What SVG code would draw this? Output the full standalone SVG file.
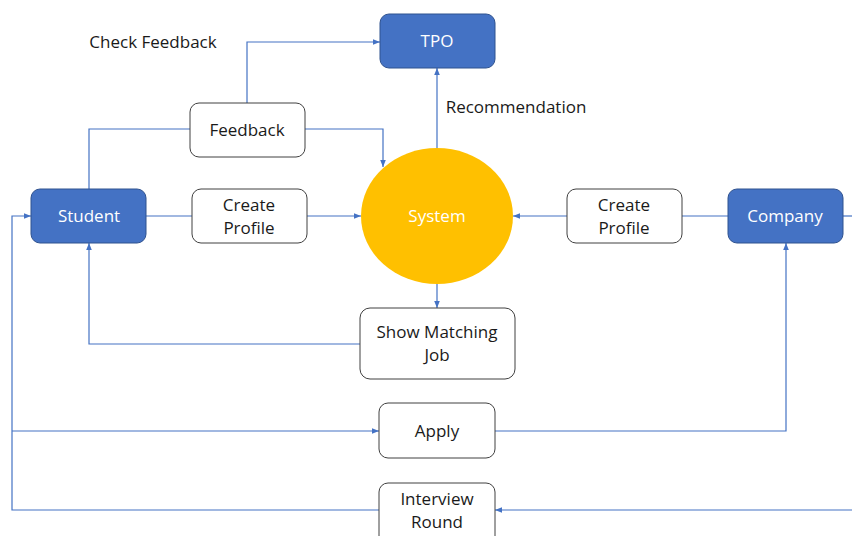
<svg xmlns="http://www.w3.org/2000/svg" width="852" height="536" viewBox="0 0 852 536">
<style>
.blue{fill:#4472C4;stroke:#2F528F;stroke-width:1}
.white{fill:#fff;stroke:#404040;stroke-width:1}
.t{font-family:"Open Sans","Noto Sans",sans-serif;font-size:17px;text-anchor:middle;fill:#1a1a1a}
.tw{font-family:"Open Sans","Noto Sans",sans-serif;font-size:17px;text-anchor:middle;fill:#fff}
.c{fill:none;stroke:#4472C4;stroke-width:1.2}
</style>
<defs>
<marker id="a" viewBox="0 0 10 10" refX="10" refY="5" markerWidth="7" markerHeight="7" orient="auto" markerUnits="userSpaceOnUse">
<path d="M0,1 L10,5 L0,9 z" fill="#4472C4"/>
</marker>
</defs>
<rect width="852" height="536" fill="#fff"/>
<g id="connectors">
<path class="c" d="M247,103 V42 H380" marker-end="url(#a)"/>
<path class="c" d="M89,189 V129 H190"/>
<path class="c" d="M305,129 H383 V167" marker-end="url(#a)"/>
<path class="c" d="M146,216 H192"/>
<path class="c" d="M307,216 H361" marker-end="url(#a)"/>
<path class="c" d="M728,216 H682"/>
<path class="c" d="M567,216 H513" marker-end="url(#a)"/>
<path class="c" d="M843,216 H852"/>
<path class="c" d="M437,149 V68" marker-end="url(#a)"/>
<path class="c" d="M437,284 V308" marker-end="url(#a)"/>
<path class="c" d="M360,344 H89 V243" marker-end="url(#a)"/>
<path class="c" d="M379,510 H12 V216 H31" marker-end="url(#a)"/>
<path class="c" d="M12,431 H379" marker-end="url(#a)"/>
<path class="c" d="M495,431 H786 V243" marker-end="url(#a)"/>
<path class="c" d="M852,510 H495" marker-end="url(#a)"/>
</g>
<text class="t" x="153" y="48">Check Feedback</text>
<text class="t" x="516" y="113">Recommendation</text>
<g id="tpo"><rect class="blue" x="380" y="14" width="115" height="54" rx="9"/><text class="tw" x="437" y="47">TPO</text></g>
<g id="feedback"><rect class="white" x="190" y="103" width="115" height="54" rx="9"/><text class="t" x="247" y="136">Feedback</text></g>
<g id="student"><rect class="blue" x="31" y="189" width="115" height="54" rx="9"/><text class="tw" x="89" y="222">Student</text></g>
<g id="create-profile-1"><rect class="white" x="192" y="189" width="115" height="54" rx="9"/><text class="t" x="249" y="211">Create</text><text class="t" x="249" y="234">Profile</text></g>
<g id="system"><ellipse cx="437" cy="216" rx="76" ry="68" fill="#FFC000"/><text class="tw" x="437" y="222">System</text></g>
<g id="create-profile-2"><rect class="white" x="567" y="189" width="115" height="54" rx="9"/><text class="t" x="624" y="211">Create</text><text class="t" x="624" y="234">Profile</text></g>
<g id="company"><rect class="blue" x="728" y="189" width="115" height="54" rx="9"/><text class="tw" x="785" y="222">Company</text></g>
<g id="show-matching-job"><rect class="white" x="360" y="308" width="155" height="71" rx="10"/><text class="t" x="437" y="338">Show Matching</text><text class="t" x="437" y="361">Job</text></g>
<g id="apply"><rect class="white" x="379" y="403" width="116" height="55" rx="9"/><text class="t" x="437" y="437">Apply</text></g>
<g id="interview-round"><rect class="white" x="379" y="483" width="116" height="64" rx="9"/><text class="t" x="437" y="505">Interview</text><text class="t" x="437" y="528">Round</text></g>
</svg>
